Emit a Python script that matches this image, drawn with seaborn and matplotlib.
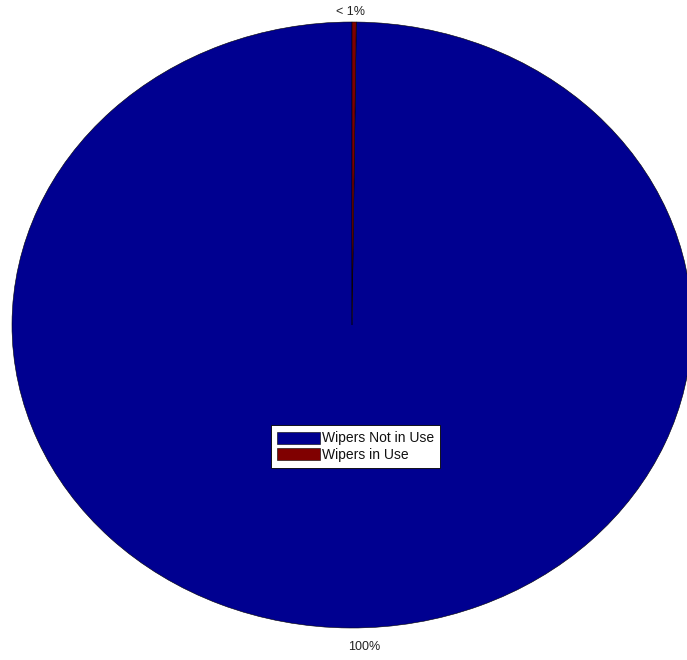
import matplotlib
matplotlib.use("Agg")
import matplotlib.pyplot as plt
import seaborn as sns

sns.set_theme(style="white")
plt.rcParams['font.family'] = ['Liberation Sans', 'DejaVu Sans']

categories = ["Wipers Not in Use", "Wipers in Use"]
values = [99.8, 0.2]
labels = ["100%", "< 1%"]
colors = ["#000090", "#800000"]

fig = plt.figure(figsize=(6.87, 6.60), dpi=100)
ax = fig.add_axes([12/687, 32/660, 680/687, 606/660])
wedges, texts = ax.pie(values, labels=labels, colors=colors, startangle=90,
                       counterclock=True, labeldistance=1.04,
                       wedgeprops=dict(edgecolor="black", linewidth=0.4),
                       textprops=dict(fontsize=9, color="#222222"))
ax.set_aspect('auto')
ax.set_xlim(-1, 1)
ax.set_ylim(-1, 1)
ax.axis('off')

# label placement like the reference
texts[0].set_position((0.035, -1.063))
texts[1].set_position((-0.003, 1.033))
for t in texts:
    t.set_ha('center')
    t.set_va('center')

leg = fig.legend(wedges, categories, loc='center', bbox_to_anchor=(355.5/687, 1 - 446.5/660),
                 fontsize=10, frameon=True, fancybox=False, edgecolor='black',
                 facecolor='white', framealpha=1,
                 handlelength=3.1, handleheight=0.95, borderpad=0.45, labelspacing=0.15,
                 handletextpad=0.15, borderaxespad=0)
leg.get_frame().set_linewidth(0.6)
for t in leg.get_texts():
    t.set_color('#111111')

fig.savefig("out.png", dpi=100, facecolor="white")
